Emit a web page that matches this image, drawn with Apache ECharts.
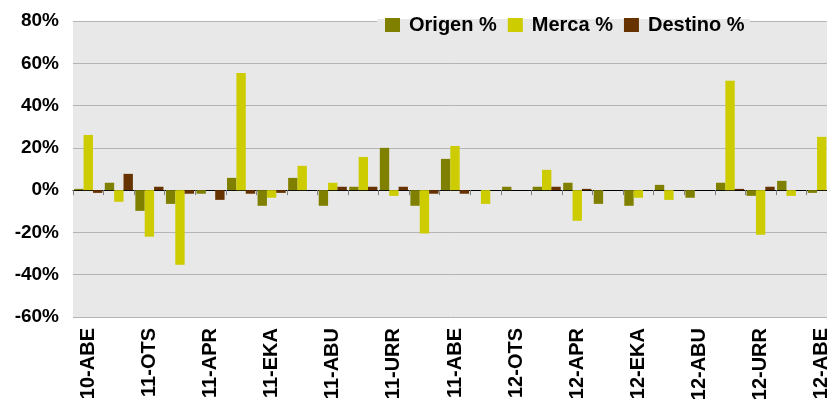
<!DOCTYPE html>
<html>
<head>
<meta charset="utf-8">
<style>
  html, body { margin: 0; padding: 0; background: #fff; }
  #chart { width: 827px; height: 401px; }
</style>
<script src="https://cdn.jsdelivr.net/npm/echarts@6/dist/echarts.min.js"></script>
</head>
<body>
<div id="chart"></div>
<script>
// months Dec 2010 - Dec 2012 (Basque abbreviations)
const months = [
  '10-ABE', '11-URT', '11-OTS', '11-MAR', '11-APR', '11-MAI', '11-EKA',
  '11-UZT', '11-ABU', '11-IRA', '11-URR', '11-AZA', '11-ABE',
  '12-URT', '12-OTS', '12-MAR', '12-APR', '12-MAI', '12-EKA',
  '12-UZT', '12-ABU', '12-IRA', '12-URR', '12-AZA', '12-ABE'
]
const origen = [0.6, 3.5, -9.8, -6.5, -1.7, 5.8, -7.4, 5.8, -7.4, 1.6, 20, -7.4, 14.8,
  0, 1.6, 1.6, 3.5, -6.5, -7.4, 2.5, -3.6, 3.5, -2.7, 4.4, -1.3]
const merca = [26.1, -5.5, -22, -35.3, 0, 55.4, -3.6, 11.5, 3.5, 15.7, -2.7, -20.5, 20.9,
  -6.5, 0, 9.6, -14.5, 0, -3.6, -4.6, 0, 51.7, -21.1, -2.7, 25.2]
const destino = [-1.3, 7.7, 1.6, -1.7, -4.6, -1.7, -1.3, 0, 1.6, 1.6, 1.6, -1.7, -1.7,
  0, 0, 1.6, 0.6, 0, 0, 0, 0, 0.6, 1.6, 0, 0]
const yTicks = { min: -60, max: 80, interval: 20 }

const font = "'Liberation Sans', Arial, sans-serif"
const chart = echarts.init(document.getElementById('chart'))

chart.setOption({
  animation: false,
  color: ['#808000', '#CCCC00', '#663300'],
  textStyle: { fontFamily: font },
  grid: {
    left: 73,
    right: -10,
    top: 21,
    bottom: 84,
    outerBoundsMode: 'none',
    containLabel: false,
    show: true,
    backgroundColor: '#e8e8e8',
    borderWidth: 0
  },
  legend: {
    left: 385,
    top: 15,
    padding: 0,
    itemGap: 11,
    itemWidth: 15,
    itemHeight: 14,
    icon: 'rect',
    textStyle: {
      fontSize: 20,
      fontWeight: 'bold',
      color: '#000',
      fontFamily: font,
      padding: [0, 0, 0, 4]
    },
    data: ['Origen %', 'Merca %', 'Destino %']
  },
  graphic: [{
    // hide the top gridline behind the legend
    type: 'rect',
    shape: { x: 377, y: 19, width: 373, height: 4 },
    style: { fill: '#e8e8e8' },
    z: 1
  }],
  xAxis: [{
    type: 'category',
    data: months,
    axisLine: { onZero: true, lineStyle: { color: '#000', width: 1 } },
    axisTick: { show: true, interval: 0, length: 5, lineStyle: { color: '#808080' } },
    axisLabel: { show: false },
    splitLine: { show: false }
  }, {
    type: 'category',
    data: months,
    position: 'bottom',
    axisLine: { show: false, onZero: false },
    axisTick: { show: false },
    axisLabel: {
      interval: 1,
      rotate: 90,
      margin: 11,
      fontSize: 20,
      fontWeight: 'bold',
      color: '#000',
      fontFamily: font
    }
  }],
  yAxis: {
    type: 'value',
    min: yTicks.min,
    max: yTicks.max,
    interval: yTicks.interval,
    axisLine: { show: false },
    axisTick: { show: false },
    axisLabel: {
      formatter: '{value}%',
      margin: 14,
      fontSize: 19,
      fontWeight: 'bold',
      color: '#000',
      fontFamily: font
    },
    splitLine: { lineStyle: { color: '#b4b4b4', width: 1 } }
  },
  series: [
    { name: 'Origen %', type: 'bar', data: origen, barGap: '0%', barCategoryGap: '8%' },
    { name: 'Merca %', type: 'bar', data: merca, barGap: '0%', barCategoryGap: '8%' },
    { name: 'Destino %', type: 'bar', data: destino, barGap: '0%', barCategoryGap: '8%' }
  ]
})
</script>
</body>
</html>
